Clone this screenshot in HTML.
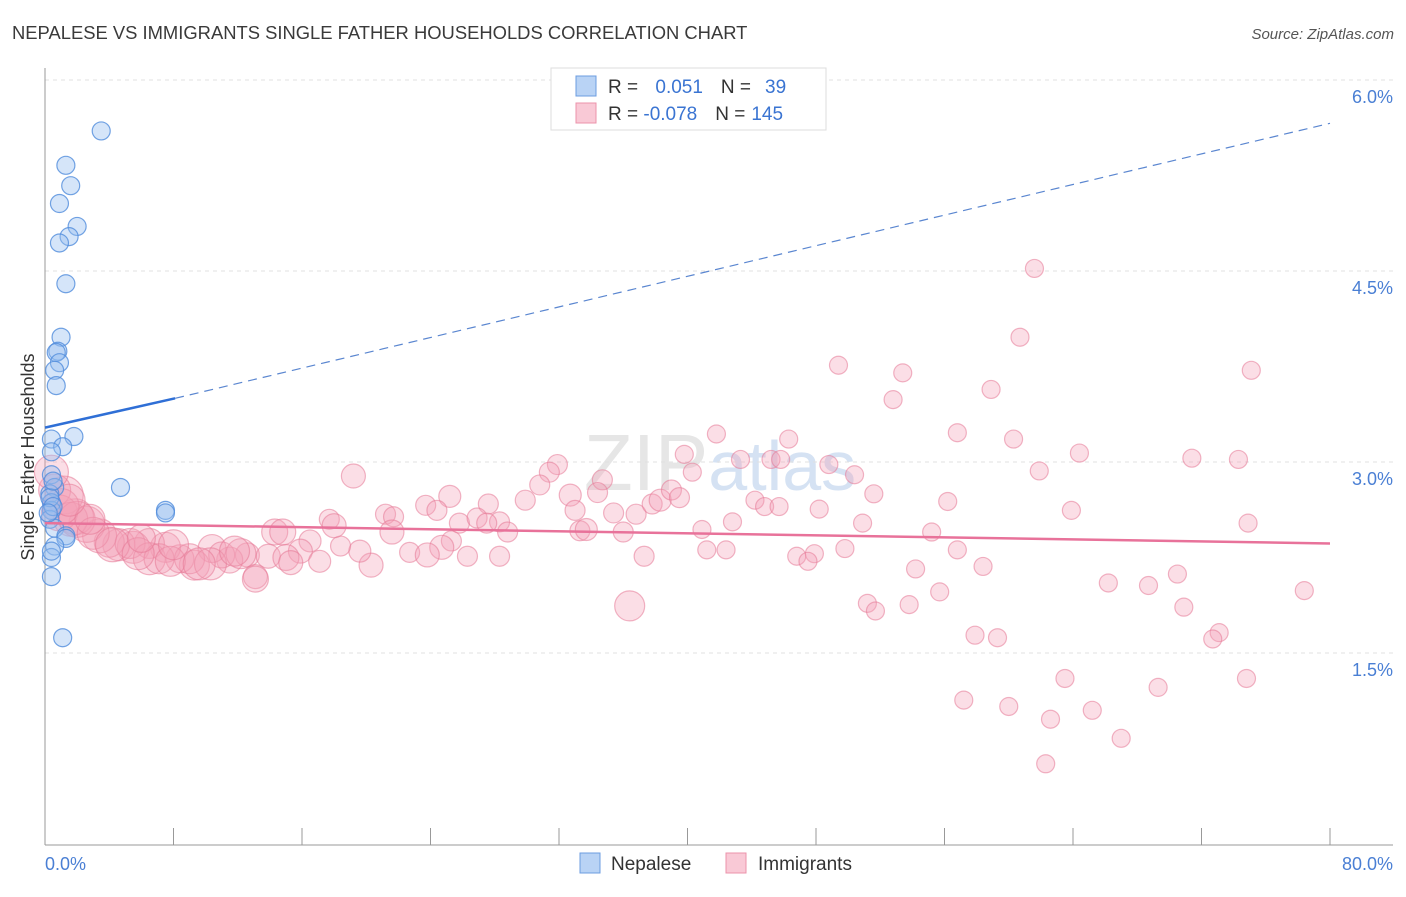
<!DOCTYPE html>
<html><head><meta charset="utf-8"><style>
body{margin:0;background:#fff;font-family:"Liberation Sans",sans-serif;}
svg text{font-family:"Liberation Sans",sans-serif;}
</style></head><body>
<svg width="1406" height="892" xmlns="http://www.w3.org/2000/svg" id="chart">
<text x="12" y="39" font-size="18.4" fill="#3a3a3a">NEPALESE VS IMMIGRANTS SINGLE FATHER HOUSEHOLDS CORRELATION CHART</text>
<text x="1394" y="39" font-size="15" fill="#555" text-anchor="end" font-style="italic">Source: ZipAtlas.com</text>
<text x="720" y="490" font-size="80" fill="#e6e6e6" text-anchor="middle" font-family="Liberation Serif">ZIP<tspan fill="#d5e2f3" font-family="Liberation Sans" font-size="70">atlas</tspan></text>
<g id="grid"></g>
<g id="axes"></g>
<g id="pink"></g>
<g id="blue"></g>
<g id="trend"></g>
<text transform="translate(34,457) rotate(-90)" font-size="18" fill="#333" text-anchor="middle">Single Father Households</text>
<text x="45" y="870" font-size="18" fill="#4a7fd4">0.0%</text>
<text x="1393" y="870" font-size="18" fill="#4a7fd4" text-anchor="end">80.0%</text>
<g>
<rect x="551" y="68" width="275" height="62" fill="#fff" stroke="#ddd"/>
<rect x="576" y="76" width="20" height="20" fill="#b9d3f5" stroke="#6c9de0"/>
<rect x="576" y="103" width="20" height="20" fill="#f9c9d6" stroke="#ec93ab"/>
<text x="608" y="93" font-size="19" fill="#333">R = <tspan fill="#3a74d2" dx="12">0.051</tspan><tspan dx="18" fill="#333">N =</tspan><tspan dx="14" fill="#3a74d2">39</tspan></text>
<text x="608" y="120" font-size="19" fill="#333">R = <tspan fill="#3a74d2">-0.078</tspan><tspan dx="18" fill="#333">N =</tspan><tspan dx="6" fill="#3a74d2">145</tspan></text>
</g>
<g>
<rect x="580" y="853" width="20" height="20" fill="#b9d3f5" stroke="#6c9de0"/>
<text x="611" y="870" font-size="19" fill="#333">Nepalese</text>
<rect x="726" y="853" width="20" height="20" fill="#f9c9d6" stroke="#ec93ab"/>
<text x="758" y="870" font-size="19" fill="#333">Immigrants</text>
</g>
</svg>
<script>
const yTicks=[1.5,3.0,4.5,6.0];
const yTickLabels=["1.5%","3.0%","4.5%","6.0%"];
const xTicks=[0,8,16,24,32,40,48,56,64,72,80];
const blueX=[3.5,1.3,1.6,0.9,2.0,1.5,0.9,1.3,1.0,0.8,0.7,0.9,0.6,0.7,1.8,0.4,1.1,0.4,4.7,7.5,7.5,0.4,0.6,0.3,0.4,0.4,0.3,0.6,1.3,1.3,0.6,0.4,0.4,1.1,0.3,0.5,0.2,0.4,0.5];
const blueY=[5.6,5.33,5.17,5.03,4.85,4.77,4.72,4.4,3.98,3.87,3.86,3.78,3.72,3.6,3.2,3.18,3.12,3.08,2.8,2.62,2.6,2.9,2.8,2.75,2.68,2.62,2.55,2.48,2.42,2.4,2.34,2.25,2.1,1.62,2.72,2.65,2.6,2.3,2.85];
const pinkX=[61.6,60.7,49.4,53.4,75.1,58.9,52.8,41.8,56.8,46.3,60.3,39.8,43.3,45.2,45.8,48.8,64.4,71.4,74.3,61.9,40.3,50.4,44.2,51.6,56.2,44.8,45.7,48.2,63.9,50.9,42.8,74.9,40.9,55.2,49.8,41.2,42.4,46.8,47.9,47.5,56.8,58.4,54.2,66.2,68.7,70.5,55.7,51.2,51.7,53.8,70.9,78.4,57.9,59.3,73.1,72.7,63.5,69.3,74.8,57.2,60.0,62.6,65.2,67.0,62.3,
36.4,37.3,19.2,31.9,31.4,30.8,34.7,34.4,29.9,27.6,25.2,23.7,21.2,17.7,21.7,24.4,25.8,26.9,28.3,32.7,33.0,36.8,35.4,37.8,38.3,39.0,39.5,33.3,33.7,36.0,28.8,27.5,25.3,24.7,22.7,23.8,26.3,28.3,20.3,19.6,18.4,16.5,15.9,17.1,14.3,12.6,13.1,13.9,15.0,15.3,11.5,10.4,11.0,9.3,8.4,7.5,6.5,5.5,4.6,4.0,3.4,2.6,1.9,1.2,0.6,0.9,1.6,5.3,6.5,7.1,9.0,10.3,12.2,13.1,2.0,1.0,0.4,3.0,4.2,5.8,7.8,9.6,11.8,14.8,18.0,21.6,8.0,6.0,2.8,1.5];
const pinkY=[4.52,3.98,3.76,3.7,3.72,3.57,3.49,3.22,3.23,3.18,3.18,3.06,3.02,3.02,3.02,2.98,3.07,3.03,3.02,2.93,2.92,2.9,2.7,2.75,2.69,2.65,2.65,2.63,2.62,2.52,2.53,2.52,2.47,2.45,2.32,2.31,2.31,2.26,2.28,2.22,2.31,2.18,2.16,2.05,2.03,2.12,1.98,1.89,1.83,1.88,1.86,1.99,1.64,1.62,1.66,1.61,1.3,1.23,1.3,1.13,1.08,0.98,1.05,0.83,0.63,
1.87,2.26,2.89,2.98,2.92,2.82,2.86,2.76,2.7,2.67,2.73,2.66,2.59,2.55,2.57,2.62,2.52,2.56,2.53,2.74,2.62,2.59,2.6,2.67,2.7,2.78,2.72,2.46,2.47,2.45,2.45,2.52,2.38,2.33,2.29,2.27,2.26,2.26,2.19,2.3,2.34,2.38,2.3,2.22,2.45,2.27,2.1,2.26,2.25,2.21,2.23,2.32,2.27,2.19,2.24,2.33,2.36,2.33,2.35,2.37,2.42,2.51,2.57,2.74,2.78,2.6,2.55,2.36,2.24,2.24,2.24,2.2,2.28,2.08,2.55,2.65,2.92,2.44,2.35,2.28,2.22,2.2,2.3,2.45,2.5,2.45,2.35,2.4,2.55,2.7];
const pinkR=[9,9,9,9,9,9,9,9,9,9,9,9,9,9,9,9,9,9,9,9,9,9,9,9,9,9,9,9,9,9,9,9,9,9,9,9,9,9,9,9,9,9,9,9,9,9,9,9,9,9,9,9,9,9,9,9,9,9,9,9,9,9,9,9,9,
15,10,12,10,10,10,10,10,10,10,11,10,10,10,10,10,10,10,10,11,10,10,10,10,11,10,10,10,11,10,10,10,10,12,10,12,10,10,12,11,10,11,12,11,13,12,12,12,13,12,13,14,13,15,14,15,15,16,16,15,17,18,18,19,16,18,17,15,16,15,15,16,15,13,18,18,17,16,17,16,15,16,15,13,12,12,15,14,15,16];
const blueTrend=[[0,3.27],[8.1,3.5],[80,5.66]];
const pinkTrend=[[0,2.52],[80,2.36]];
const X=v=>45+v*(1285/80), Y=v=>80+(6-v)*(191/1.5);
const NS="http://www.w3.org/2000/svg";
function mk(t,a,p){const e=document.createElementNS(NS,t);for(const k in a)e.setAttribute(k,a[k]);p.appendChild(e);return e;}
const grid=document.getElementById('grid'),axes=document.getElementById('axes');
yTicks.forEach((t,i)=>{
 const l=mk('line',{x1:45,x2:1393,y1:Y(t),y2:Y(t),stroke:'#e0e0e0','stroke-dasharray':'4,4'},grid);
 
 
 const tx=mk('text',{x:1393,y:Y(t)+23,'font-size':18,fill:'#4a7fd4','text-anchor':'end'},grid);
 tx.textContent=yTickLabels[i];
 
 
});
const ya=mk('line',{x1:45,x2:45,y1:68,y2:845,stroke:'#999'},axes);


const xa=mk('line',{x1:45,x2:1393,y1:845,y2:845,stroke:'#999'},axes);


xTicks.forEach(t=>{const l=mk('line',{x1:X(t),x2:X(t),y1:828,y2:845,stroke:'#999'},axes);
 
 });
const pg=document.getElementById('pink');
pinkX.forEach((v,i)=>{const c=mk('circle',{cx:X(v),cy:Y(pinkY[i]),r:pinkR[i],fill:'rgba(244,160,184,0.35)',stroke:'rgba(230,120,150,0.55)','stroke-width':1.2},pg);
 
 });
const bg=document.getElementById('blue');
blueX.forEach((v,i)=>{const c=mk('circle',{cx:X(v),cy:Y(blueY[i]),r:9,fill:'rgba(150,190,240,0.4)',stroke:'rgba(80,140,220,0.8)','stroke-width':1.2},bg);
 
 });
const tg=document.getElementById('trend');
const b1=mk('line',{x1:X(blueTrend[0][0]),y1:Y(blueTrend[0][1]),x2:X(blueTrend[1][0]),y2:Y(blueTrend[1][1]),stroke:'#2f6fd6','stroke-width':2.5},tg);


const b2=mk('line',{x1:X(blueTrend[1][0]),y1:Y(blueTrend[1][1]),x2:X(blueTrend[2][0]),y2:Y(blueTrend[2][1]),stroke:'#5a86d0','stroke-width':1.2,'stroke-dasharray':'9,6'},tg);


const p1=mk('line',{x1:X(pinkTrend[0][0]),y1:Y(pinkTrend[0][1]),x2:X(pinkTrend[1][0]),y2:Y(pinkTrend[1][1]),stroke:'#e8729a','stroke-width':2.5},tg);


</script>
</body></html>
